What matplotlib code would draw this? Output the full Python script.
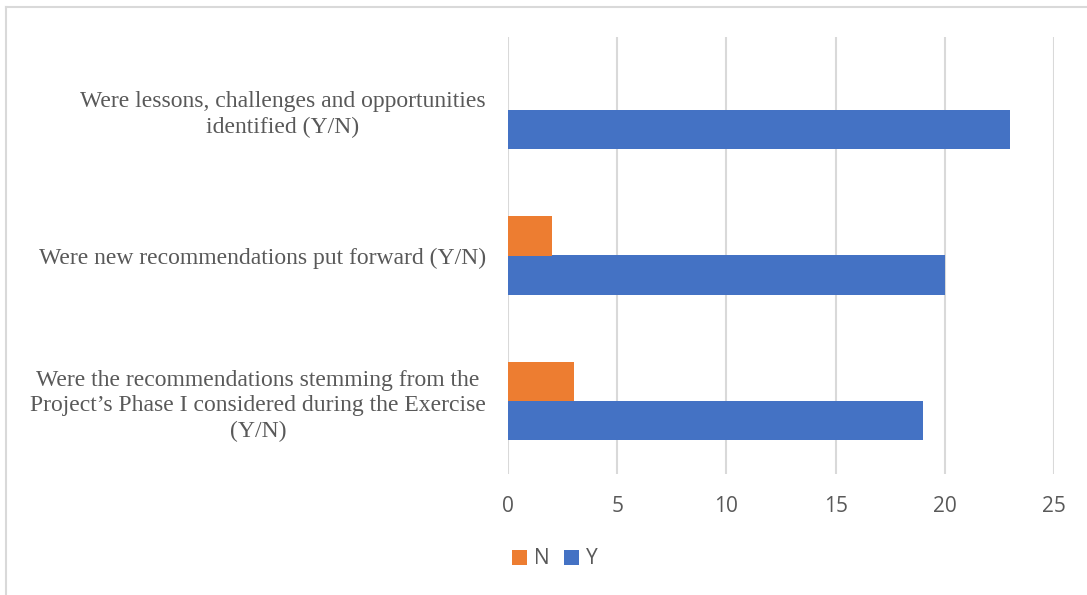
import matplotlib
matplotlib.use("Agg")
import matplotlib.pyplot as plt
from matplotlib.patches import Patch
from matplotlib.lines import Line2D

# Survey questions (bottom to top) and counts of answers
questions = [
    "Were the recommendations stemming from the\nProject\u2019s Phase I considered during the Exercise\n(Y/N)",
    "Were new recommendations put forward (Y/N)",
    "Were lessons, challenges and opportunities\nidentified (Y/N)",
]
answers_n = [3, 2, 0]
answers_y = [19, 20, 23]
series_names = ["N", "Y"]
x_ticks = [0, 5, 10, 15, 20, 25]

ORANGE = "#ED7D31"
BLUE = "#4472C4"
TEXT = "#595959"
GRID = "#D9D9D9"

W, H = 1087, 595
fig = plt.figure(figsize=(W / 100, H / 100), dpi=100)

# light frame around the chart area (top and left edges)
fig.add_artist(Line2D([6 / W, 1.0], [1 - 7 / H, 1 - 7 / H], color=GRID, lw=1.5,
                      transform=fig.transFigure))
fig.add_artist(Line2D([6 / W, 6 / W], [0.0, 1 - 7 / H], color=GRID, lw=1.5,
                      transform=fig.transFigure))

ax = fig.add_axes([508 / W, 1 - 474 / H, 546 / W, 437 / H])

pos = list(range(len(questions)))
h = 0.268
ax.barh([p - h / 2 for p in pos], answers_y, height=h, color=BLUE, zorder=3)
ax.barh([p + h / 2 for p in pos], answers_n, height=h, color=ORANGE, zorder=3)

ax.set_xlim(0, 25)
ax.set_ylim(-0.5, len(questions) - 0.5)
ax.set_xticks(x_ticks)
ax.set_xticklabels([str(t) for t in x_ticks], fontfamily="Open Sans",
                   fontsize=15, color=TEXT)
ax.set_yticks(pos)
ax.set_yticklabels(questions, fontfamily="Liberation Serif", fontsize=17,
                   color=TEXT, linespacing=1.3)
for lbl in ax.get_yticklabels():
    lbl.set_multialignment("center")

ax.tick_params(axis="both", length=0)
ax.tick_params(axis="x", pad=16)
ax.tick_params(axis="y", pad=16)
ax.grid(axis="x", color=GRID, lw=1.5, zorder=0)
ax.grid(axis="y", visible=False)
for s in ax.spines.values():
    s.set_visible(False)

handles = [Patch(facecolor=ORANGE, edgecolor="none"),
           Patch(facecolor=BLUE, edgecolor="none")]
leg = fig.legend(handles, series_names, loc="center",
                 bbox_to_anchor=(555 / W, 1 - 559 / H), ncol=2, frameon=False,
                 handlelength=0.7, handleheight=0.7, handletextpad=0.35,
                 columnspacing=0.7, prop={"family": "Open Sans", "size": 15})
for t in leg.get_texts():
    t.set_color(TEXT)

fig.savefig("out.png", dpi=100, facecolor="white")
